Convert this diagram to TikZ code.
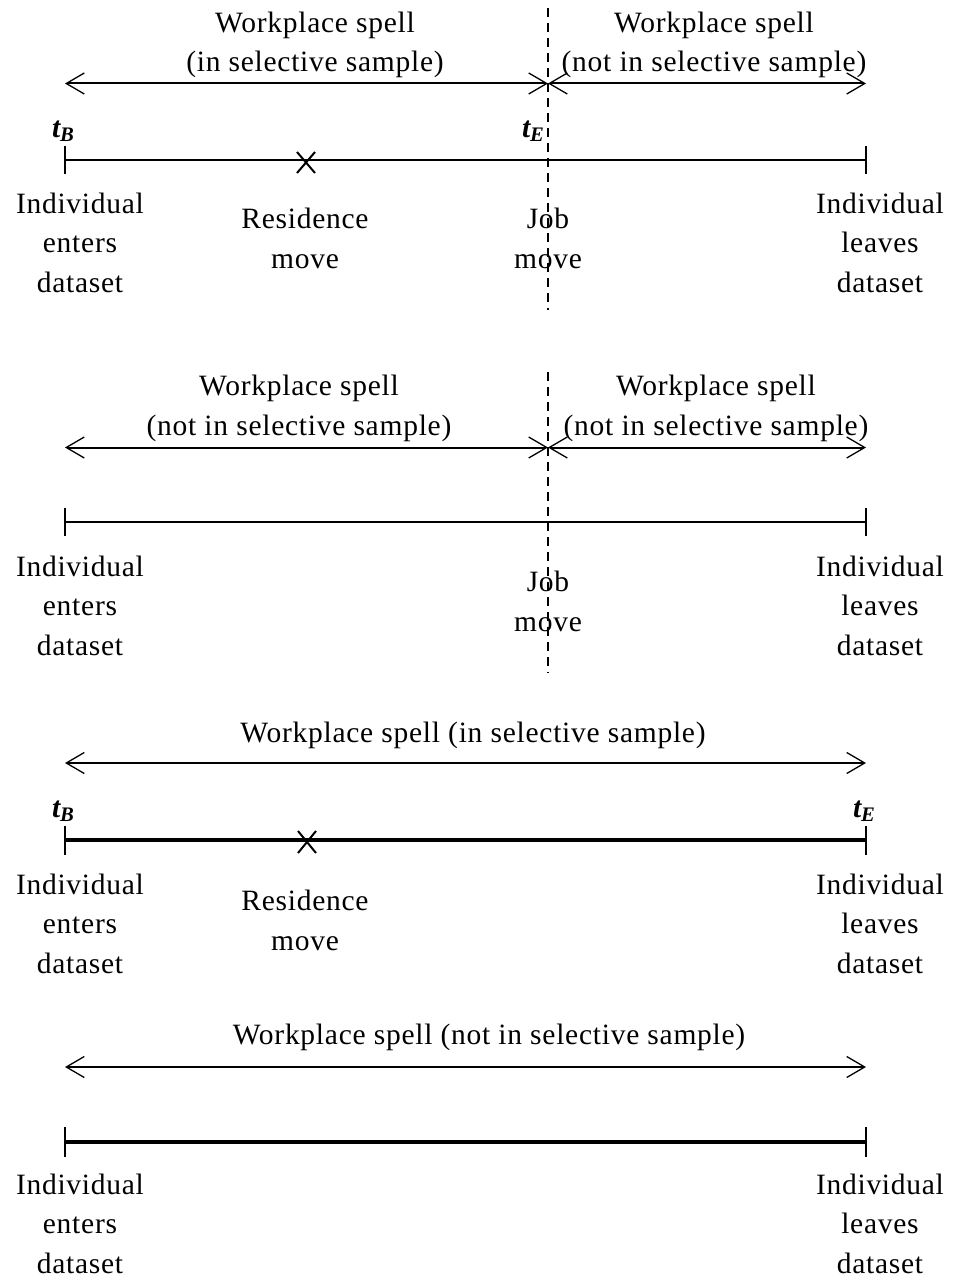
\documentclass[tikz,border=0pt]{standalone}
\usepackage{fontspec}
\setmainfont{Liberation Serif}[LetterSpace=2.5]
\usetikzlibrary{arrows.meta}
\tikzset{sbarb/.tip={Straight Barb[length=18pt,width=21pt,line width=1.3pt]}}
\begin{document}
\begin{tikzpicture}[x=1pt,y=-1pt,
  lbl/.style={inner sep=0pt, outer sep=0pt, font=\fontsize{29.5}{39.5}\selectfont, align=center, anchor=base},
  tlbl/.style={inner sep=0pt, outer sep=0pt, font=\fontsize{29.5}{39.5}\selectfont\bfseries\itshape, anchor=base west},
  spell/.style={line width=2pt, sbarb-sbarb},
  tline/.style={line width=2pt},
  tlinethick/.style={line width=3.2pt},
  tick/.style={line width=2.5pt},
  jobline/.style={line width=1.5pt, dash pattern=on 9pt off 6pt},
  xmark/.style={line width=2pt}
]
\useasboundingbox (0,0) rectangle (953,1279);
% (multi-line labels: anchor=base sits on the baseline of the last line)

% ---------- Panel 1 ----------
\coordinate (a1L) at (65,83.5);
\coordinate (a1M) at (548,83.5);
\coordinate (a1R) at (866,83.5);
\draw[spell] (a1L) -- (a1M);
\draw[spell] (a1M) -- (a1R);
\coordinate (j1T) at (548,8);
\coordinate (j1B) at (548,310);
\draw[jobline] (j1T) -- (j1B);
\coordinate (l1L) at (65,160);
\coordinate (l1R) at (866,160);
\draw[tline] (l1L) -- (l1R);
\coordinate (k1La) at (65,146); \coordinate (k1Lb) at (65,174);
\coordinate (k1Ra) at (866,146); \coordinate (k1Rb) at (866,174);
\draw[tick] (k1La) -- (k1Lb);
\draw[tick] (k1Ra) -- (k1Rb);
\coordinate (x1a) at (297,152); \coordinate (x1b) at (315,173);
\coordinate (x1c) at (297,173); \coordinate (x1d) at (315,152);
\draw[xmark] (x1a) -- (x1b);
\draw[xmark] (x1c) -- (x1d);
\node[lbl] (w1L) at (315,72) {Workplace spell\\(in selective sample)};
\node[lbl] (w1R) at (714,72) {Workplace spell\\(not in selective sample)};
\node[tlbl] (tB1) at (52,137) {t\textsubscript{B}};
\node[tlbl] (tE1) at (522,137) {t\textsubscript{E}};
\node[lbl] (in1) at (80,292) {Individual\\enters\\dataset};
\node[lbl] (rm1) at (305,268) {Residence\\move};
\node[lbl] (jm1) at (548,268) {Job\\move};
\node[lbl] (lv1) at (880,292) {Individual\\leaves\\dataset};

% ---------- Panel 2 ----------
\coordinate (a2L) at (65,447.5);
\coordinate (a2M) at (548,447.5);
\coordinate (a2R) at (866,447.5);
\draw[spell] (a2L) -- (a2M);
\draw[spell] (a2M) -- (a2R);
\coordinate (j2T) at (548,372);
\coordinate (j2B) at (548,673);
\draw[jobline] (j2T) -- (j2B);
\coordinate (l2L) at (65,522);
\coordinate (l2R) at (866,522);
\draw[tline] (l2L) -- (l2R);
\coordinate (k2La) at (65,508); \coordinate (k2Lb) at (65,536);
\coordinate (k2Ra) at (866,508); \coordinate (k2Rb) at (866,536);
\draw[tick] (k2La) -- (k2Lb);
\draw[tick] (k2Ra) -- (k2Rb);
\node[lbl] (w2L) at (299,435) {Workplace spell\\(not in selective sample)};
\node[lbl] (w2R) at (716,435) {Workplace spell\\(not in selective sample)};
\node[lbl] (in2) at (80,655) {Individual\\enters\\dataset};
\node[lbl] (jm2) at (548,631) {Job\\move};
\node[lbl] (lv2) at (880,655) {Individual\\leaves\\dataset};

% ---------- Panel 3 ----------
\coordinate (a3L) at (65,763);
\coordinate (a3R) at (866,763);
\draw[spell] (a3L) -- (a3R);
\coordinate (l3L) at (65,840);
\coordinate (l3R) at (866,840);
\draw[tlinethick] (l3L) -- (l3R);
\coordinate (k3La) at (65,826); \coordinate (k3Lb) at (65,855);
\coordinate (k3Ra) at (866,826); \coordinate (k3Rb) at (866,855);
\draw[tick] (k3La) -- (k3Lb);
\draw[tick] (k3Ra) -- (k3Rb);
\coordinate (x3a) at (298,831); \coordinate (x3b) at (316,853);
\coordinate (x3c) at (298,853); \coordinate (x3d) at (316,831);
\draw[xmark] (x3a) -- (x3b);
\draw[xmark] (x3c) -- (x3d);
\node[lbl] (w3) at (473,742) {Workplace spell (in selective sample)};
\node[tlbl] (tB3) at (52,817) {t\textsubscript{B}};
\node[tlbl] (tE3) at (853,817) {t\textsubscript{E}};
\node[lbl] (in3) at (80,973) {Individual\\enters\\dataset};
\node[lbl] (rm3) at (305,950) {Residence\\move};
\node[lbl] (lv3) at (880,973) {Individual\\leaves\\dataset};

% ---------- Panel 4 ----------
\coordinate (a4L) at (65,1067);
\coordinate (a4R) at (866,1067);
\draw[spell] (a4L) -- (a4R);
\coordinate (l4L) at (65,1142);
\coordinate (l4R) at (866,1142);
\draw[tlinethick] (l4L) -- (l4R);
\coordinate (k4La) at (65,1127); \coordinate (k4Lb) at (65,1157);
\coordinate (k4Ra) at (866,1127); \coordinate (k4Rb) at (866,1157);
\draw[tick] (k4La) -- (k4Lb);
\draw[tick] (k4Ra) -- (k4Rb);
\node[lbl] (w4) at (489,1044) {Workplace spell (not in selective sample)};
\node[lbl] (in4) at (80,1273) {Individual\\enters\\dataset};
\node[lbl] (lv4) at (880,1273) {Individual\\leaves\\dataset};
\end{tikzpicture}
\end{document}
